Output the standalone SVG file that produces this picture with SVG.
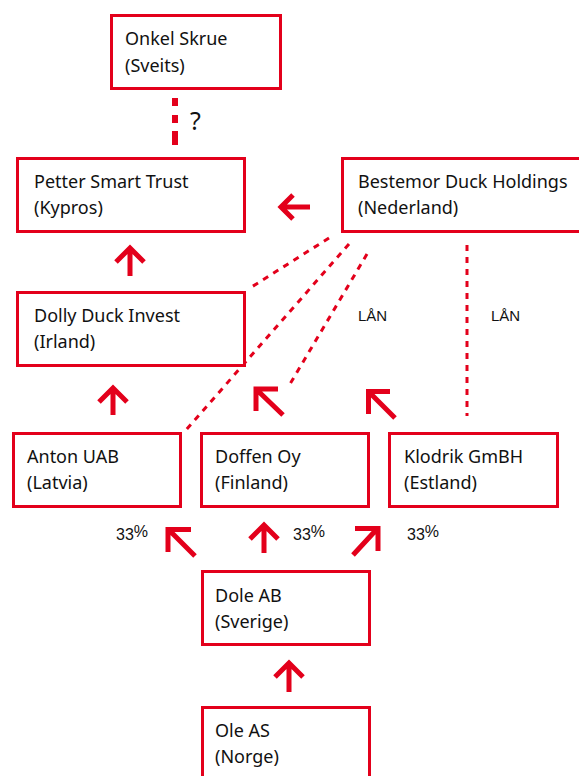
<svg xmlns="http://www.w3.org/2000/svg" width="579" height="776" viewBox="0 0 579 776">
<style>
.box{fill:#fff;stroke:#e3001b;stroke-width:3}
.t{font-family:"Noto Sans","Open Sans",sans-serif;font-size:18px;fill:#111}
.lbl{font-family:"Liberation Sans",Arial,sans-serif;font-size:15px;fill:#111}
.arr{fill:none;stroke:#e3001b;stroke-width:5;stroke-linecap:butt;stroke-linejoin:miter;stroke-miterlimit:10}
.dash{fill:none;stroke:#e3001b;stroke-width:3;stroke-dasharray:6 6}
</style>
<rect width="579" height="776" fill="#fff"/>
<g id="connectors">
  <path d="M175,98 V145" fill="none" stroke="#e3001b" stroke-width="6" stroke-dasharray="8 9 8 8 14"/>
  <path class="dash" d="M329,238 L250,288"/>
  <path class="dash" d="M349,244 L186,430"/>
  <path class="dash" d="M367,254 L290,384"/>
  <path class="dash" d="M467,245 V416"/>
  <path class="arr" d="M310,207 H282 M293,195 L281,207 L293,219"/>
  <path class="arr" d="M130,276 V249 M116,262 L130,248 L144,262"/>
  <path class="arr" d="M113,415 V389 M99,402 L113,388 L127,402"/>
  <path class="arr" d="M278,389 H256 V411 M257,390 L283,415"/>
  <path class="arr" d="M390,391.5 H368.5 V414 M369,392 L395,418"/>
  <path class="arr" d="M191,529.5 H168 V552 M169,530 L195,556"/>
  <path class="arr" d="M264,553 V526 M250,539 L264,525 L278,539"/>
  <path class="arr" d="M355,528.5 H378 V551 M377,529 L353,555"/>
  <path class="arr" d="M289,692 V664 M275,677 L289,663 L303,677"/>
  <text class="t" x="190" y="130" style="font-size:25px">?</text>
  <text class="lbl" x="358" y="321">LÅN</text>
  <text class="lbl" x="491" y="321">LÅN</text>
  <text class="lbl" x="116" y="540" style="font-size:16px">33<tspan dy="-3">%</tspan></text>
  <text class="lbl" x="293" y="540" style="font-size:16px">33<tspan dy="-3">%</tspan></text>
  <text class="lbl" x="407" y="540" style="font-size:16px">33<tspan dy="-3">%</tspan></text>
</g>
<g id="onkel"><rect class="box" x="111.5" y="15.5" width="169" height="73"/><text class="t" x="125" y="45">Onkel Skrue</text><text class="t" x="125" y="72">(Sveits)</text></g>
<g id="petter"><rect class="box" x="17.5" y="158.5" width="227" height="73"/><text class="t" x="34" y="188">Petter Smart Trust</text><text class="t" x="34" y="214">(Kypros)</text></g>
<g id="bestemor"><rect class="box" x="342.5" y="158.5" width="250" height="73"/><text class="t" x="358" y="188">Bestemor Duck Holdings</text><text class="t" x="358" y="214">(Nederland)</text></g>
<g id="dolly"><rect class="box" x="17.5" y="292.5" width="227" height="73"/><text class="t" x="34" y="322">Dolly Duck Invest</text><text class="t" x="34" y="348">(Irland)</text></g>
<g id="anton"><rect class="box" x="13.5" y="433.5" width="167" height="73"/><text class="t" x="27" y="463">Anton UAB</text><text class="t" x="27" y="489">(Latvia)</text></g>
<g id="doffen"><rect class="box" x="201.5" y="433.5" width="167" height="73"/><text class="t" x="215" y="463">Doffen Oy</text><text class="t" x="215" y="489">(Finland)</text></g>
<g id="klodrik"><rect class="box" x="389.5" y="433.5" width="168" height="73"/><text class="t" x="404" y="463">Klodrik GmBH</text><text class="t" x="404" y="489">(Estland)</text></g>
<g id="dole"><rect class="box" x="202.5" y="571.5" width="167" height="73"/><text class="t" x="215" y="602">Dole AB</text><text class="t" x="215" y="628">(Sverige)</text></g>
<g id="ole"><rect class="box" x="202.5" y="707.5" width="167" height="80"/><text class="t" x="215" y="737">Ole AS</text><text class="t" x="215" y="763">(Norge)</text></g>
</svg>
